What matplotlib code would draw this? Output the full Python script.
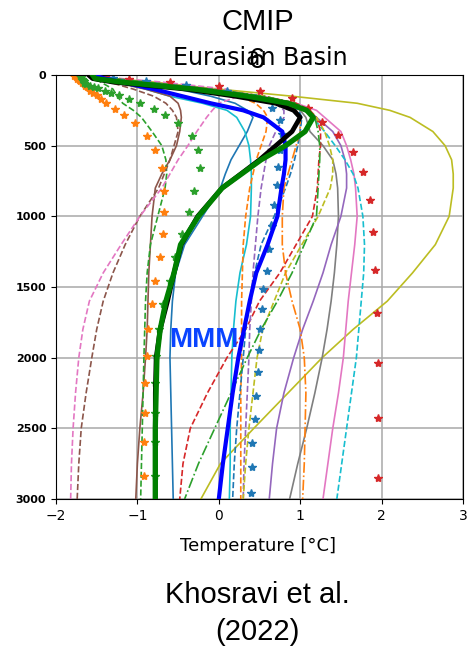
import matplotlib
matplotlib.use("Agg")
from matplotlib import pyplot as plt

# depth levels (m) shared by the line profiles
depth = [0, 25, 50, 100, 150, 200, 250, 300, 400, 500, 600, 700, 800,
         1000, 1200, 1400, 1600, 1800, 2000, 2250, 2500, 2750, 3000]

# individual model profiles, temperature in degC
olive_solid = [-1.55, -1.3, -0.8, 0.0, 0.9, 1.7, 2.1, 2.35, 2.63, 2.78, 2.86, 2.88, 2.88,
               2.83, 2.66, 2.38, 2.07, 1.65, 1.27, 0.85, 0.43, 0.02, -0.22]
blue_solid = [-1.55, -1.35, -1.1, -0.5, -0.1, 0.2, 0.35, 0.42, 0.35, 0.25, 0.15, 0.08, 0.02,
              -0.2, -0.42, -0.53, -0.57, -0.59, -0.6, -0.59, -0.58, -0.57, -0.56]
cyan_solid = [-1.55, -1.4, -1.2, -0.9, -0.6, -0.2, 0.1, 0.22, 0.32, 0.37, 0.39, 0.4, 0.4,
              0.39, 0.34, 0.26, 0.21, 0.18, 0.16, 0.15, 0.14, 0.14, 0.13]
gray_solid = [-1.55, -1.3, -0.9, -0.1, 0.5, 0.85, 1.0, 1.07, 1.12, 1.28, 1.4, 1.44, 1.46,
              1.47, 1.45, 1.42, 1.38, 1.33, 1.27, 1.18, 1.08, 0.97, 0.87]
pink_solid = [-1.55, -1.3, -0.9, -0.1, 0.55, 0.95, 1.2, 1.3, 1.5, 1.57, 1.62, 1.66, 1.68,
              1.7, 1.67, 1.63, 1.59, 1.56, 1.53, 1.47, 1.4, 1.34, 1.28]
purple_solid = [-1.55, -1.3, -0.9, -0.1, 0.5, 0.9, 1.1, 1.2, 1.4, 1.5, 1.55, 1.57, 1.57,
                1.5, 1.38, 1.28, 1.16, 1.03, 0.92, 0.8, 0.71, 0.66, 0.62]
brown_solid = [-1.6, -1.5, -1.3, -0.9, -0.6, -0.5, -0.47, -0.46, -0.48, -0.52, -0.6, -0.7, -0.78,
               -0.82, -0.84, -0.86, -0.87, -0.88, -0.9, -0.93, -0.97, -1.0, -1.02]
cyan_dashed = [-1.55, -1.3, -0.9, -0.1, 0.5, 0.85, 1.05, 1.15, 1.3, 1.43, 1.55, 1.65, 1.71,
               1.77, 1.79, 1.78, 1.75, 1.72, 1.69, 1.63, 1.57, 1.51, 1.45]
red_dashed = [-1.55, -1.3, -0.9, -0.1, 0.55, 0.95, 1.12, 1.2, 1.25, 1.25, 1.23, 1.22, 1.21,
              1.15, 0.95, 0.75, 0.5, 0.33, 0.1, -0.14, -0.35, -0.44, -0.48]
green_dashed = [-1.6, -1.55, -1.45, -1.3, -1.25, -1.18, -1.05, -0.95, -0.82, -0.7, -0.65, -0.64, -0.66,
                -0.75, -0.84, -0.88, -0.9, -0.91, -0.92, -0.93, -0.94, -0.95, -0.96]
brown_dashed = [-1.6, -1.5, -1.35, -1.05, -0.8, -0.65, -0.57, -0.52, -0.5, -0.55, -0.6, -0.67, -0.74,
                -0.97, -1.15, -1.3, -1.42, -1.5, -1.56, -1.63, -1.69, -1.72, -1.74]
pink_dashed = [-1.55, -1.2, -0.7, 0.1, 0.25, 0.0, -0.08, -0.15, -0.27, -0.38, -0.5, -0.6, -0.7,
               -0.97, -1.2, -1.42, -1.59, -1.67, -1.72, -1.76, -1.79, -1.81, -1.82]
orange_dashed = [-1.55, -1.3, -0.9, -0.2, 0.25, 0.45, 0.55, 0.6, 0.58, 0.52, 0.46, 0.42, 0.38,
                 0.33, 0.3, 0.29, 0.28, 0.28, 0.28, 0.27, 0.27, 0.27, 0.27]
purple_dashed = [-1.55, -1.3, -0.9, -0.1, 0.45, 0.7, 0.8, 0.8, 0.7, 0.62, 0.58, 0.55, 0.52,
                 0.48, 0.45, 0.42, 0.4, 0.38, 0.37, 0.35, 0.33, 0.31, 0.3]
olive_dashed = [-1.55, -1.3, -0.9, -0.1, 0.55, 0.9, 1.1, 1.2, 1.3, 1.36, 1.4, 1.4, 1.37,
                1.22, 1.02, 0.82, 0.68, 0.54, 0.47, 0.42, 0.37, 0.33, 0.3]
blue_dashed = [-1.55, -1.3, -0.9, -0.1, 0.5, 0.85, 0.98, 1.02, 1.0, 0.97, 0.93, 0.88, 0.82,
               0.68, 0.52, 0.44, 0.38, 0.33, 0.3, 0.26, 0.22, 0.19, 0.17]
orange_dashdot = [-1.55, -1.3, -0.9, -0.1, 0.45, 0.8, 0.95, 1.0, 1.0, 0.95, 0.9, 0.85, 0.8,
                  0.78, 0.78, 0.82, 0.9, 1.0, 1.05, 1.07, 1.06, 1.05, 1.03]
green_dashdot = [-1.55, -1.3, -0.9, -0.1, 0.55, 0.95, 1.1, 1.18, 1.22, 1.24, 1.24, 1.23, 1.22,
                 1.2, 1.05, 0.9, 0.72, 0.52, 0.35, 0.15, -0.05, -0.25, -0.42]

# thick profiles: observations (black, green) and multi-model mean (blue)
obs_black = [-1.6, -1.55, -1.3, -0.4, 0.2, 0.7, 0.92, 1.0, 0.9, 0.7, 0.5, 0.27, 0.04,
             -0.26, -0.46, -0.55, -0.63, -0.72, -0.77, -0.78, -0.78, -0.78, -0.78]
obs_green = [-1.55, -1.52, -1.2, -0.3, 0.35, 0.85, 1.08, 1.16, 1.06, 0.82, 0.52, 0.28, 0.04,
             -0.25, -0.47, -0.55, -0.65, -0.72, -0.76, -0.77, -0.78, -0.78, -0.78]
mmm = [-1.55, -1.4, -1.2, -0.8, -0.45, -0.1, 0.3, 0.55, 0.78, 0.82, 0.82, 0.8, 0.77,
       0.72, 0.6, 0.46, 0.38, 0.31, 0.24, 0.17, 0.11, 0.05, 0.0]

# models drawn with star markers, each on its own vertical grid
star_depth = [5, 15, 25, 35, 45, 55, 65, 75, 85, 95, 110, 125, 145, 170, 200, 240, 285,
              340, 432, 530, 658, 820, 970, 1125, 1285, 1460, 1620, 1800, 1990, 2180, 2390, 2600, 2840]
orange_stars = [-1.78, -1.76, -1.74, -1.72, -1.7, -1.68, -1.66, -1.64, -1.62, -1.6, -1.58, -1.55, -1.5,
                -1.45, -1.38, -1.28, -1.16, -1.03, -0.88, -0.78, -0.7, -0.67, -0.67, -0.69, -0.72,
                -0.78, -0.82, -0.87, -0.88, -0.91, -0.91, -0.92, -0.92]
green_stars = [-1.7, -1.69, -1.68, -1.67, -1.66, -1.65, -1.63, -1.58, -1.53, -1.48, -1.4, -1.33, -1.22,
               -1.1, -0.97, -0.8, -0.66, -0.5, -0.33, -0.26, -0.23, -0.3, -0.37, -0.45, -0.54,
               -0.6, -0.68, -0.74, -0.77, -0.78, -0.78, -0.78, -0.78]
red_star_depth = [5, 15, 30, 50, 75, 110, 160, 230, 330, 425, 545, 685, 885, 1110, 1380, 1685, 2040, 2430, 2850]
red_stars = [-1.5, -1.4, -1.1, -0.6, 0.0, 0.5, 0.9, 1.1, 1.27, 1.46, 1.65, 1.77, 1.86, 1.89,
             1.92, 1.94, 1.96, 1.96, 1.96]
blue_star_depth = [5, 20, 40, 70, 110, 160, 230, 320, 420, 530, 650, 780, 920, 1070, 1230,
                   1390, 1515, 1655, 1797, 1945, 2100, 2270, 2435, 2605, 2775, 2960]
blue_stars = [-1.5, -1.3, -0.9, -0.4, 0.1, 0.45, 0.65, 0.75, 0.78, 0.75, 0.73, 0.71, 0.68, 0.65,
              0.62, 0.59, 0.54, 0.53, 0.51, 0.49, 0.48, 0.46, 0.45, 0.41, 0.41, 0.40]

fig = plt.figure(figsize=(4.68, 6.48), dpi=100)
ax = fig.add_axes([56 / 468, 1 - 499 / 648, 407 / 468, 424 / 648])

lw = 1.2
thin = [
    (olive_solid, 'tab:olive', '-'),
    (blue_solid, 'tab:blue', '-'),
    (cyan_solid, 'tab:cyan', '-'),
    (gray_solid, 'tab:gray', '-'),
    (pink_solid, 'tab:pink', '-'),
    (purple_solid, 'tab:purple', '-'),
    (brown_solid, 'tab:brown', '-'),
    (cyan_dashed, 'tab:cyan', '--'),
    (red_dashed, 'tab:red', '--'),
    (green_dashed, 'tab:green', '--'),
    (brown_dashed, 'tab:brown', '--'),
    (pink_dashed, 'tab:pink', '--'),
    (orange_dashed, 'tab:orange', '--'),
    (purple_dashed, 'tab:purple', '--'),
    (olive_dashed, 'tab:olive', '--'),
    (blue_dashed, 'tab:blue', '--'),
    (orange_dashdot, 'tab:orange', '-.'),
    (green_dashdot, 'tab:green', '-.'),
]
for temp, col, ls in thin:
    ax.plot(temp, depth, color=col, linestyle=ls, linewidth=lw)

ax.plot(orange_stars, star_depth, '*', color='tab:orange', markersize=6)
ax.plot(green_stars, star_depth, '*', color='tab:green', markersize=6)
ax.plot(red_stars, red_star_depth, '*', color='tab:red', markersize=6)
ax.plot(blue_stars, blue_star_depth, '*', color='tab:blue', markersize=6)

ax.plot(mmm, depth, color='blue', linewidth=3.0, zorder=5)
ax.plot(obs_black, depth, color='black', linewidth=3.4, zorder=6)
ax.plot(obs_green, depth, color='green', linewidth=3.8, zorder=7)

ax.set_xlim(-2, 3)
ax.set_ylim(3000, 0)
ax.set_xticks([-2, -1, 0, 1, 2, 3])
ax.set_yticks([0, 500, 1000, 1500, 2000, 2500, 3000])
ax.grid(True, color='#a8a8a8', linewidth=1.1)
ax.set_axisbelow(True)
ax.tick_params(axis='x', labelsize=10)
ax.tick_params(axis='y', labelsize=8)
for lab in ax.get_yticklabels():
    lab.set_fontweight('bold')

ax.text(-0.19, 1875, 'MMM', color='#0a44ff', fontsize=20, fontweight='bold',
        family='Liberation Sans', ha='center', va='center', zorder=10)

fig.text(0.551, 0.1497, 'Temperature [°C]', fontsize=13, ha='center', va='baseline')
fig.text(0.557, 0.8997, 'Eurasian Basin', fontsize=17, ha='center', va='baseline')
fig.text(0.551, 0.9537, 'CMIP', fontsize=21, family='Liberation Sans', ha='center', va='baseline')
fig.text(0.549, 0.895, '6', fontsize=21, family='Liberation Sans', ha='center', va='baseline')
fig.text(0.551, 0.0694, 'Khosravi et al.', fontsize=21, family='Liberation Sans', ha='center', va='baseline')
fig.text(0.551, 0.0123, '(2022)', fontsize=21, family='Liberation Sans', ha='center', va='baseline')

plt.savefig('out.png', dpi=100)
